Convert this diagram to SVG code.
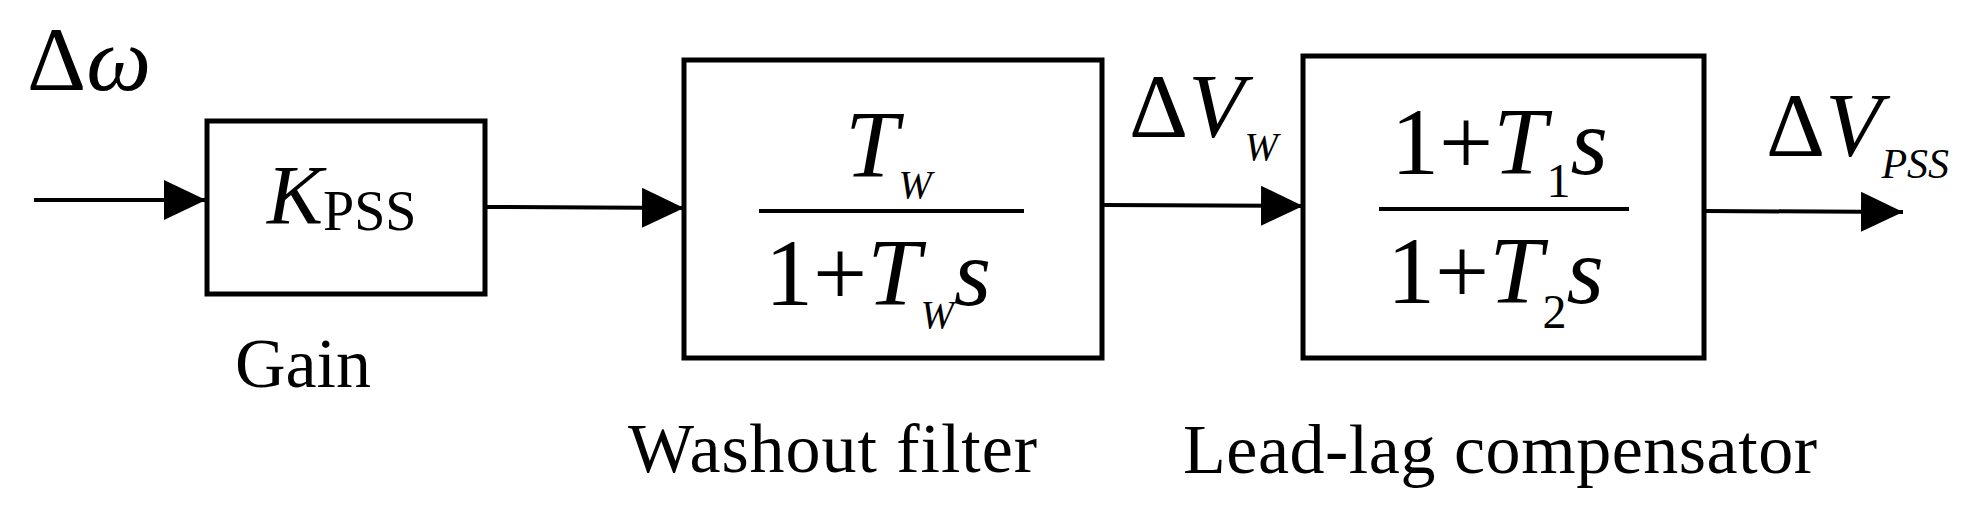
<svg xmlns="http://www.w3.org/2000/svg" width="1976" height="505" viewBox="0 0 1976 505">
<style>
text{font-family:"Liberation Serif","Times New Roman",serif;fill:#000}
.i{font-style:italic}
.box{fill:#fff;stroke:#000;stroke-width:5}
.ln{stroke:#000;stroke-width:4;fill:none}
.lbl{font-size:70px}
.big{font-size:96px}
</style>
<defs><marker id="ah" markerUnits="userSpaceOnUse" markerWidth="44" markerHeight="44" refX="42" refY="20" orient="auto"><path d="M0,0 L42,20 L0,40 Z" fill="#000"/></marker></defs>
<g id="connectors">
<line class="ln" x1="34" y1="200" x2="206" y2="200" marker-end="url(#ah)"/>
<line class="ln" x1="487" y1="207" x2="684" y2="208" marker-end="url(#ah)"/>
<line class="ln" x1="1104" y1="205" x2="1303" y2="206" marker-end="url(#ah)"/>
<line class="ln" x1="1706" y1="211" x2="1903" y2="212" marker-end="url(#ah)"/>
</g>
<g id="input"><text x="27" y="90" font-size="92">Δ<tspan class="i">ω</tspan></text></g>
<g id="gain">
<rect class="box" x="207" y="121" width="278" height="173"/>
<text x="267" y="224" font-size="84" class="i">K<tspan font-style="normal" font-size="56" y="230">PSS</tspan></text>
<text class="lbl" x="235" y="387">Gain</text>
</g>
<g id="washout">
<rect class="box" x="684" y="60" width="418" height="298"/>
<text class="big i" x="845" y="177">T<tspan font-size="40" y="198">W</tspan></text>
<line class="ln" x1="759" y1="211" x2="1024" y2="211"/>
<text class="big" x="765" y="305">1+<tspan class="i">T</tspan><tspan class="i" font-size="40" y="328">W</tspan><tspan class="i" y="305">s</tspan></text>
<text class="lbl" x="628" y="472" textLength="409">Washout filter</text>
</g>
<g id="vw"><text x="1129" y="137" font-size="92">Δ<tspan class="i">V</tspan><tspan class="i" font-size="40" y="160">W</tspan></text></g>
<g id="leadlag">
<rect class="box" x="1303" y="56" width="401" height="302"/>
<text class="big" x="1391" y="174">1+<tspan class="i">T</tspan><tspan font-size="48" y="197">1</tspan><tspan class="i" y="174">s</tspan></text>
<line class="ln" x1="1379" y1="209" x2="1629" y2="209"/>
<text class="big" x="1387" y="303">1+<tspan class="i">T</tspan><tspan font-size="48" y="328">2</tspan><tspan class="i" y="303">s</tspan></text>
<text class="lbl" x="1183" y="473" textLength="634">Lead-lag compensator</text>
</g>
<g id="vpss"><text x="1766" y="156" font-size="92">Δ<tspan class="i">V</tspan><tspan class="i" font-size="42" y="178">PSS</tspan></text></g>
</svg>
